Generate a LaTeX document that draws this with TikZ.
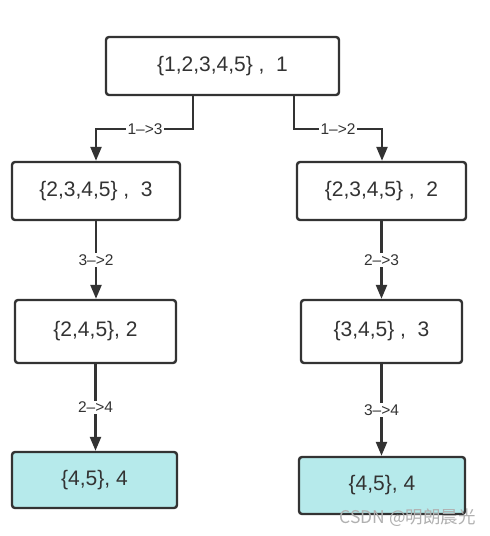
\documentclass[tikz,border=0pt]{standalone}
\usepackage{fontspec}
\setmainfont{Liberation Sans}
\newfontfamily\cjk{Noto Sans CJK SC}
\usetikzlibrary{arrows.meta}
\definecolor{ink}{HTML}{333333}
\definecolor{leaf}{HTML}{B6EAEB}
\definecolor{wm}{HTML}{B0B0B0}
\begin{document}
\begin{tikzpicture}[x=1pt,y=-1pt,
  box/.style={draw=ink, line width=2.4pt, rounded corners=3pt, fill=white, text=ink,
    font=\fontsize{21}{24}\selectfont, inner sep=0pt},
  leafbox/.style={box, fill=leaf},
  conn/.style={draw=ink, line width=2.4pt, -{Triangle[length=14pt,width=11pt]}},
  lbl/.style={fill=white, text=ink, font=\fontsize{15.5}{18}\selectfont, inner sep=1.5pt}]
\useasboundingbox (0,0) rectangle (490,536);
\node[box, minimum width=233pt, minimum height=58pt] (r) at (222.5,66) {\{1,2,3,4,5\} ,\ \ 1};
\node[box, minimum width=168pt, minimum height=58pt] (L1) at (96,191) {\{2,3,4,5\} ,\ \ 3};
\node[box, minimum width=169pt, minimum height=58pt] (R1) at (381.5,191) {\{2,3,4,5\} ,\ \ 2};
\node[box, minimum width=161pt, minimum height=63pt] (L2) at (95.5,331.5) {\{2,4,5\}, 2};
\node[box, minimum width=161pt, minimum height=63pt] (R2) at (381.5,331.5) {\{3,4,5\} ,\ \ 3};
\node[leafbox, minimum width=165pt, minimum height=56pt] (L3) at (94.5,480) {\{4,5\}, 4};
\node[leafbox, minimum width=166pt, minimum height=57pt] (R3) at (382,485.5) {\{4,5\}, 4};
% top connectors
\coordinate (a1) at (193,129);
\coordinate (a2) at (96,129);
\coordinate (b1) at (294,129);
\coordinate (b2) at (382,129);
\draw[conn] ([xshift=-29.5pt]r.south) -- (a1) -- (a2) -- (a2 |- L1.north);
\draw[conn] ([xshift=71.5pt]r.south) -- (b1) -- (b2) -- (b2 |- R1.north);
\node[lbl] (t13) at (145,129) {1–>3};
\node[lbl] (t12) at (338,129) {1–>2};
% vertical connectors
\draw[conn] (L1.south) -- node[lbl] (t32) {3–>2} (L1.south |- L2.north);
\draw[conn] (R1.south) -- node[lbl] (t23) {2–>3} (R1.south |- R2.north);
\draw[conn] (L2.south) -- node[lbl] (t24) {2–>4} (L2.south |- L3.north);
\draw[conn] (R2.south) -- node[lbl] (t34) {3–>4} (R2.south |- R3.north);
% watermark
\node[anchor=east, text=wm, font=\cjk\fontsize{17.5}{20}\selectfont, inner sep=0pt] (wmk) at (476,518) {CSDN @明朗晨光};
\end{tikzpicture}
\end{document}
